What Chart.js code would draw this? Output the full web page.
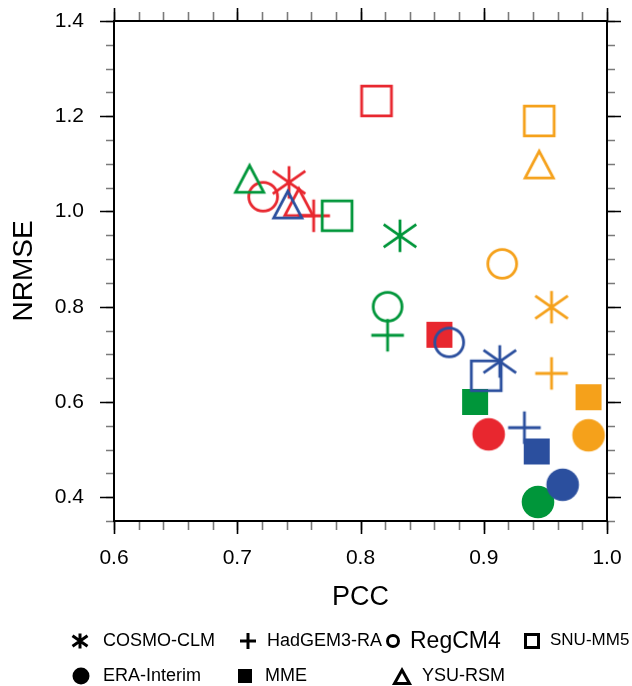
<!DOCTYPE html>
<html>
<head>
<meta charset="utf-8">
<title>PCC vs NRMSE</title>
<script src="https://cdn.jsdelivr.net/npm/chart.js@4.4.1/dist/chart.umd.min.js"></script>
<style>
    body { margin: 0; background: #fff; }
    #wrap { position: relative; width: 632px; height: 686px; }
    #legend span, #legend canvas { position: absolute; }
    #legend span { font-family: 'Liberation Sans', Arial, sans-serif; color: #000; white-space: nowrap; line-height: 1.2; }
</style>
</head>
<body>
<div id="wrap">
    <canvas id="scatter" width="632" height="686"></canvas>
    <div id="legend"></div>
</div>
<script>
// models, in legend order, and the marker used for each
const models = ['COSMO-CLM', 'HadGEM3-RA', 'RegCM4', 'SNU-MM5', 'ERA-Interim', 'MME', 'YSU-RSM'];
const markers = ['asterisk', 'plus', 'circle', 'square', 'dot', 'block', 'triangle'];

// PCC / NRMSE per colour group, same order as models
const redPcc = [0.742, 0.762, 0.721, 0.813, 0.904, 0.864, 0.750];
const redNrmse = [1.061, 0.991, 1.031, 1.232, 0.532, 0.741, 1.021];
const greenPcc = [0.832, 0.822, 0.822, 0.781, 0.944, 0.893, 0.710];
const greenNrmse = [0.949, 0.740, 0.800, 0.991, 0.390, 0.600, 1.070];
const bluePcc = [0.913, 0.933, 0.872, 0.902, 0.964, 0.943, 0.741];
const blueNrmse = [0.685, 0.546, 0.725, 0.655, 0.426, 0.496, 1.016];
const orangePcc = [0.955, 0.955, 0.915, 0.945, 0.985, 0.985, 0.945];
const orangeNrmse = [0.799, 0.660, 0.890, 1.190, 0.530, 0.610, 1.100];

const xTicks = [0.6, 0.7, 0.8, 0.9, 1.0];
const yTicks = [0.4, 0.6, 0.8, 1.0, 1.2, 1.4];

const FONT = "'Liberation Sans', Arial, sans-serif";

function drawMarker(ctx, kind, cx, cy, s, color, lw) {
    ctx.strokeStyle = color;
    ctx.fillStyle = color;
    ctx.lineWidth = lw;
    ctx.lineJoin = 'miter';
    ctx.beginPath();
    switch (kind) {
        case 'asterisk':
            ctx.moveTo(cx, cy - s); ctx.lineTo(cx, cy + s);
            ctx.moveTo(cx - s, cy - s * 0.7); ctx.lineTo(cx + s, cy + s * 0.7);
            ctx.moveTo(cx - s, cy + s * 0.7); ctx.lineTo(cx + s, cy - s * 0.7);
            ctx.stroke();
            break;
        case 'plus':
            ctx.moveTo(cx, cy - s); ctx.lineTo(cx, cy + s);
            ctx.moveTo(cx - s, cy); ctx.lineTo(cx + s, cy);
            ctx.stroke();
            break;
        case 'circle':
            ctx.arc(cx, cy, s - lw / 2, 0, Math.PI * 2);
            ctx.stroke();
            break;
        case 'square':
            ctx.rect(cx - s + lw / 2, cy - s + lw / 2, 2 * s - lw, 2 * s - lw);
            ctx.stroke();
            break;
        case 'dot':
            ctx.arc(cx, cy, s, 0, Math.PI * 2);
            ctx.fill();
            break;
        case 'block':
            ctx.rect(cx - s, cy - s, 2 * s, 2 * s);
            ctx.fill();
            break;
        case 'triangle':
            ctx.moveTo(cx, cy - s + lw);
            ctx.lineTo(cx + s - lw / 2, cy + s - lw / 2);
            ctx.lineTo(cx - s + lw / 2, cy + s - lw / 2);
            ctx.closePath();
            ctx.stroke();
            break;
    }
}

// half-size of each marker on the plot
const plotSize = { asterisk: 16.3, plus: 16.3, circle: 15.8, square: 16.3, dot: 16.3, block: 13, triangle: 15.5 };

function markerCanvas(kind, color) {
    const c = document.createElement('canvas');
    c.width = 40;
    c.height = 40;
    drawMarker(c.getContext('2d'), kind, 20, 20, plotSize[kind], color, 2.8);
    return c;
}

function makeSet(label, pcc, nrmse, color, order) {
    return {
        label: label,
        data: pcc.map((v, i) => ({ x: v, y: nrmse[i] })),
        pointStyle: markers.map(k => markerCanvas(k, color)),
        pointRadius: 16,
        order: order
    };
}

const frameTicks = {
    id: 'frameTicks',
    afterDatasetsDraw(chart) {
        const { ctx, chartArea: a, scales: { x, y } } = chart;
        ctx.save();
        ctx.lineWidth = 1.6;

        const tickX = (v, len, color) => {
            const px = Math.round(x.getPixelForValue(v)) + 0.5;
            ctx.strokeStyle = color;
            ctx.beginPath();
            ctx.moveTo(px, a.bottom); ctx.lineTo(px, a.bottom + len);
            ctx.moveTo(px, a.top); ctx.lineTo(px, a.top - len);
            ctx.stroke();
        };
        const tickY = (v, len, color) => {
            const py = Math.round(y.getPixelForValue(v)) + 0.5;
            ctx.strokeStyle = color;
            ctx.beginPath();
            ctx.moveTo(a.left, py); ctx.lineTo(a.left - len, py);
            ctx.moveTo(a.right, py); ctx.lineTo(a.right + len, py);
            ctx.stroke();
        };

        for (let i = 0; i <= 20; i++) tickX(0.6 + i * 0.02, 9, '#7a7a7a');
        for (let i = 0; i <= 21; i++) tickY(0.35 + i * 0.05, 8, '#7a7a7a');
        xTicks.forEach(v => tickX(v, 13, '#000'));
        yTicks.forEach(v => tickY(v, 14, '#000'));

        ctx.lineWidth = 2;
        ctx.strokeStyle = '#000';
        ctx.strokeRect(a.left, a.top, a.right - a.left, a.bottom - a.top);
        ctx.restore();
    }
};

new Chart(document.getElementById('scatter'), {
    type: 'scatter',
    data: {
        datasets: [
            makeSet('red', redPcc, redNrmse, '#e8272f', 4),
            makeSet('green', greenPcc, greenNrmse, '#00963a', 3),
            makeSet('blue', bluePcc, blueNrmse, '#2b4f9e', 2),
            makeSet('orange', orangePcc, orangeNrmse, '#f5a11b', 1)
        ]
    },
    options: {
        responsive: false,
        animation: false,
        devicePixelRatio: 1,
        layout: { autoPadding: false, padding: { top: 21, right: 25, left: 0, bottom: 0 } },
        plugins: {
            legend: { display: false },
            tooltip: { enabled: false }
        },
        scales: {
            x: {
                type: 'linear',
                min: 0.6,
                max: 1.0,
                afterBuildTicks: scale => { scale.ticks = xTicks.map(v => ({ value: v })); },
                afterFit: scale => { scale.height = 165; },
                // ticks are drawn by the plugin; tickLength only sets the label gap
                grid: { display: false, drawTicks: true, tickLength: 22 },
                border: { display: false },
                ticks: {
                    padding: 3,
                    color: '#000',
                    font: { family: FONT, size: 21 },
                    callback: v => v.toFixed(1)
                },
                title: {
                    display: true,
                    text: 'PCC',
                    color: '#000',
                    font: { family: FONT, size: 27 },
                    padding: { top: 0, bottom: 72 }
                }
            },
            y: {
                type: 'linear',
                min: 0.35,
                max: 1.4,
                afterBuildTicks: scale => { scale.ticks = yTicks.map(v => ({ value: v })); },
                afterFit: scale => { scale.width = 114; },
                grid: { display: false, drawTicks: true, tickLength: 27 },
                border: { display: false },
                ticks: {
                    padding: 3,
                    color: '#000',
                    font: { family: FONT, size: 21 },
                    callback: v => v.toFixed(1)
                },
                title: {
                    display: true,
                    text: 'NRMSE',
                    color: '#000',
                    font: { family: FONT, size: 28 },
                    padding: { top: 7, bottom: 0 }
                }
            }
        }
    },
    plugins: [frameTicks]
});

// legend below the plot: marker centre, text left edge, font size
const legendItems = [
    { kind: 'asterisk', s: 7.5, cx: 80, cy: 641, tx: 103, fs: 18 },
    { kind: 'plus', s: 8, cx: 248, cy: 641, tx: 267, fs: 18 },
    { kind: 'circle', s: 7, cx: 393, cy: 641, tx: 410, fs: 23 },
    { kind: 'square', s: 8, cx: 532, cy: 641, tx: 550, fs: 17 },
    { kind: 'dot', s: 8.5, cx: 81, cy: 676, tx: 103, fs: 18 },
    { kind: 'block', s: 7, cx: 245, cy: 676, tx: 265, fs: 18 },
    { kind: 'triangle', s: 9, cx: 402, cy: 676, tx: 422, fs: 18 }
];

const legendBox = document.getElementById('legend');
legendItems.forEach((item, i) => {
    const icon = document.createElement('canvas');
    icon.width = 24;
    icon.height = 24;
    drawMarker(icon.getContext('2d'), item.kind, 12, 12, item.s, '#000', 3);
    icon.style.left = (item.cx - 12) + 'px';
    icon.style.top = (item.cy - 12) + 'px';
    legendBox.appendChild(icon);

    const label = document.createElement('span');
    label.textContent = models[i];
    label.style.fontSize = item.fs + 'px';
    label.style.left = item.tx + 'px';
    label.style.top = (item.cy - item.fs * 0.62) + 'px';
    legendBox.appendChild(label);
});
</script>
</body>
</html>
